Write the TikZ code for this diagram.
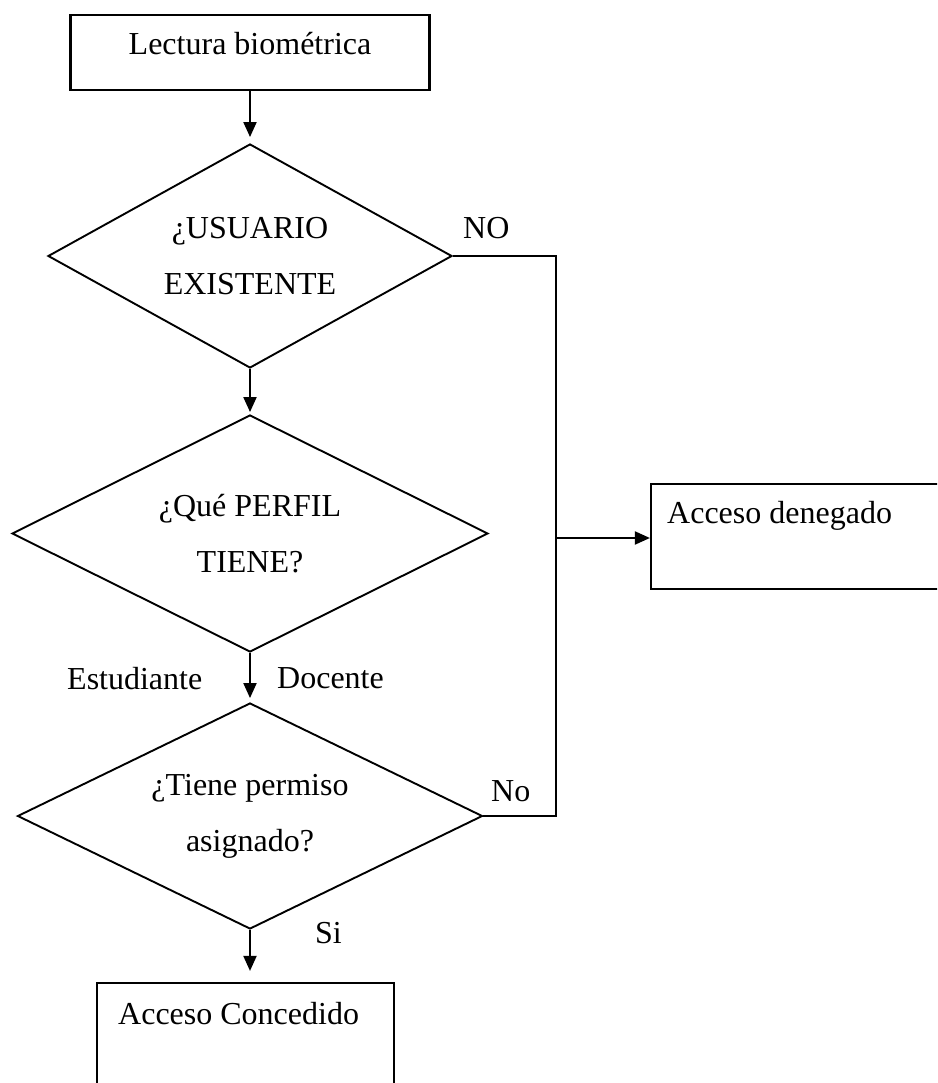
\documentclass[tikz,border=0pt]{standalone}
\usepackage{fontspec}
\setmainfont{Liberation Serif}
\usetikzlibrary{shapes.geometric,arrows.meta}
\begin{document}
\begin{tikzpicture}[x=1pt,y=-1pt,
  every node/.style={font=\fontsize{32}{56}\selectfont},
  box/.style={draw, line width=2.2pt, rectangle, inner sep=0pt},
  dec/.style={draw, line width=1.9pt, diamond, inner sep=0pt, align=center},
  conn/.style={line width=2pt},
  arr/.style={conn, -{Triangle[length=15pt,width=13pt]}},
  lbl/.style={anchor=base west, inner sep=0pt}]
\useasboundingbox (0,0) rectangle (937,1083);
\clip (0,0) rectangle (937,1083);
% boxes
\node[box, minimum width=359pt, minimum height=75pt, text height=22pt, text depth=17pt] (read) at (250,52.5) {Lectura biométrica};
\node[box, minimum width=320pt, minimum height=105pt] (den) at (811,536.5) {};
\node[lbl] (dent) at (667,523) {Acceso denegado};
\node[box, minimum width=297pt, minimum height=130pt] (acc) at (245.5,1048) {};
\node[lbl] (acct) at (118,1024) {Acceso Concedido};
% decisions
\node[dec, minimum width=404pt, minimum height=224pt, aspect=1.8] (d1) at (250,256) {¿USUARIO\\EXISTENTE};
\node[dec, minimum width=476pt, minimum height=237pt, aspect=2] (d2) at (250,533.5) {¿Qué PERFIL\\TIENE?};
\node[dec, minimum width=465pt, minimum height=226pt, aspect=2] (d3) at (250,816) {¿Tiene permiso\\asignado?};
% labels
\node[lbl] (lno1) at (463,238) {NO};
\node[lbl] (lno2) at (491,801) {No};
\node[lbl] (lsi) at (315,943) {Si};
\node[lbl] (lest) at (67,689) {Estudiante};
\node[lbl] (ldoc) at (277,688) {Docente};
% junctions
\coordinate (j1) at (556,256);
\coordinate (j2) at (556,538);
\coordinate (j3) at (556,816);
% connectors
\draw[arr, shorten >=6pt] (d1.north |- read.south) -- (d1.north);
\draw[arr, shorten >=2pt] (d1.south) -- (d2.north);
\draw[arr, shorten >=4pt] (d2.south) -- (d3.north);
\draw[arr, shorten >=11pt] (d3.south) -- (d3.south |- acc.north);
\draw[conn] (d1.east) -- (j1) -- (j3) -- (d3.east);
\draw[arr] (j2) -- (j2 -| den.west);
\end{tikzpicture}
\end{document}
